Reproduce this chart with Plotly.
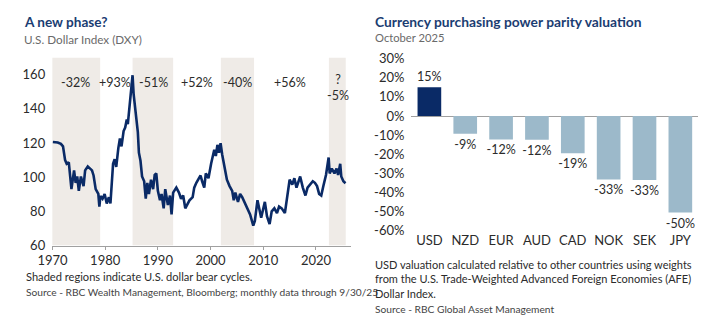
import plotly.graph_objects as go

# ---------------- Data ----------------
dxy_years = [1970.07, 1971.0, 1971.6, 1972.0, 1972.4, 1972.7, 1973.1, 1973.3, 1973.6, 1974.1,
             1974.4, 1974.7, 1975.0, 1975.4, 1975.9, 1976.2, 1976.7, 1977.5, 1977.8, 1978.2,
             1978.7, 1978.9, 1979.1, 1979.5, 1979.9, 1980.3, 1980.7, 1981.0, 1981.5, 1981.8,
             1982.1, 1982.5, 1982.8, 1983.1, 1983.5, 1983.8, 1984.1, 1984.3, 1984.7, 1984.9,
             1985.2, 1985.4, 1985.8, 1986.2, 1986.4, 1986.7, 1987.0, 1987.4, 1987.7, 1988.0,
             1988.3, 1988.7, 1989.1, 1989.4, 1989.7, 1990.0, 1990.4, 1990.7, 1991.1, 1991.4,
             1991.9, 1992.3, 1992.6, 1992.9, 1993.5, 1994.0, 1994.4, 1994.8, 1995.2, 1995.6,
             1996.0, 1996.6, 1996.9, 1997.3, 1997.8, 1998.1, 1998.4, 1998.8, 1999.1, 1999.6,
             2000.1, 2000.7, 2001.0, 2001.3, 2001.6, 2001.9, 2002.2, 2002.7, 2003.1, 2003.6,
             2004.1, 2004.4, 2004.7, 2005.2, 2005.6, 2006.0, 2006.6, 2007.0, 2007.5, 2008.1,
             2008.4, 2008.9, 2009.2, 2009.6, 2010.3, 2010.7, 2011.2, 2011.6, 2012.1, 2012.6,
             2013.0, 2013.5, 2014.1, 2014.6, 2015.0, 2015.5, 2015.9, 2016.3, 2016.7, 2017.0,
             2017.5, 2018.0, 2018.4, 2018.9, 2019.4, 2019.8, 2020.2, 2020.6, 2021.0, 2021.4,
             2021.9, 2022.4, 2022.6, 2023.0, 2023.5, 2023.9, 2024.2, 2024.6, 2024.8, 2025.2,
             2025.6]
dxy_values = [120.6, 120.3, 119.5, 118.0, 110.0, 107.8, 108.7, 100.0, 93.0, 104.0,
              96.7, 100.4, 92.0, 100.4, 94.8, 104.0, 106.3, 104.0, 101.0, 93.0,
              90.2, 82.8, 89.0, 87.4, 90.2, 84.6, 88.3, 84.6, 107.8, 110.5,
              106.0, 117.0, 122.6, 118.0, 127.0, 129.0, 133.7, 131.0, 143.0, 150.4,
              159.6, 148.5, 135.6, 126.3, 114.3, 109.6, 100.4, 97.6, 87.4, 96.7,
              90.2, 98.5, 93.0, 101.3, 102.2, 92.0, 86.5, 90.2, 81.8, 93.0,
              83.7, 89.3, 78.2, 91.0, 93.9, 91.0, 87.4, 89.3, 81.8, 84.6,
              86.5, 88.3, 93.9, 96.7, 99.4, 101.0, 97.6, 93.9, 102.2, 99.4,
              107.8, 116.0, 112.4, 118.9, 114.3, 119.8, 113.3, 106.0, 98.5, 94.8,
              92.0, 86.5, 91.0, 85.6, 90.2, 88.3, 84.6, 81.8, 78.2, 71.7,
              74.4, 86.5, 81.8, 76.3, 85.6, 77.2, 72.6, 80.0, 81.8, 79.0,
              82.8, 81.8, 79.0, 91.0, 98.5, 95.7, 99.4, 93.9, 97.6, 100.4,
              93.9, 89.3, 93.9, 95.7, 97.6, 96.7, 94.8, 90.2, 89.3, 94.8,
              101.3, 111.5, 102.2, 105.0, 102.2, 105.0, 101.3, 107.8, 100.4, 97.6,
              96.5]

bear_starts = [1969.95, 1985.2, 2001.95, 2022.45]
bear_ends = [1979.05, 1992.9, 2008.25, 2025.65]

cycle_labels = ["-32%", "+93%", "-51%", "+52%", "-40%", "+56%", "?<br>-5%"]
cycle_label_x = [1974.4, 1981.9, 1989.2, 1997.35, 2005.1, 2015.1, 2024.1]
cycle_label_y = [155.6, 155.6, 155.6, 155.6, 155.6, 155.6, 152.2]

dxy_ticks = [1970, 1980, 1990, 2000, 2010, 2020]
dxy_yticks = [60, 80, 100, 120, 140, 160]

currencies = ["USD", "NZD", "EUR", "AUD", "CAD", "NOK", "SEK", "JPY"]
ppp_values = [15, -9.3, -12.2, -12.4, -19.4, -33.1, -33.4, -50.4]
ppp_yticks = [30, 20, 10, 0, -10, -20, -30, -40, -50, -60]

# ---------------- Styling ----------------
FONT = "Lato"
NAVY = "#0A2A66"
TITLE_C = "#1B3D72"
SUB_C = "#6A6A6A"
TXT_C = "#2B2B2B"
SHADE = "#EFEBE7"
LIGHT = "#9CB9CA"

W, H = 711, 323
def px_x(p): return p / W
def px_y(p): return 1 - p / H

fig = go.Figure()

fig.add_trace(go.Scatter(
    x=dxy_years, y=dxy_values, mode="lines",
    line=dict(color=NAVY, width=2.6), xaxis="x", yaxis="y",
    showlegend=False, hoverinfo="skip"))

bar_colors = [NAVY if c == "USD" else LIGHT for c in currencies]
fig.add_trace(go.Bar(
    x=currencies, y=ppp_values, marker=dict(color=bar_colors, line=dict(width=0)),
    text=[f"{round(v)}%" for v in ppp_values], textposition="outside",
    constraintext="none",
    textfont=dict(family=FONT, size=12.5, color=TXT_C), cliponaxis=False,
    xaxis="x2", yaxis="y2", showlegend=False, hoverinfo="skip"))

shapes = []
for s, e in zip(bear_starts, bear_ends):
    shapes.append(dict(type="rect", xref="x", yref="y", x0=s, x1=e, y0=60, y1=170,
                       fillcolor=SHADE, line=dict(width=0), layer="below"))

annotations = []
for t, x, y in zip(cycle_labels, cycle_label_x, cycle_label_y):
    annotations.append(dict(text=t, x=x, y=y, xref="x", yref="y", showarrow=False,
                            font=dict(family=FONT, size=12.5, color=TXT_C)))

def txt(text, x, y, size, color, bold=False, yanchor="middle"):
    if bold:
        text = f"<b>{text}</b>"
    annotations.append(dict(text=text, x=px_x(x), y=px_y(y), xref="paper", yref="paper",
                            xanchor="left", yanchor=yanchor, showarrow=False, align="left",
                            font=dict(family=FONT, size=size, color=color)))

txt("A new phase?", 7, 15, 13.6, TITLE_C, bold=True)
txt("U.S. Dollar Index (DXY)", 7, 32.5, 11.7, SUB_C)
txt("Shaded regions indicate U.S. dollar bear cycles.", 9, 282, 11.1, TXT_C)
txt("Source - RBC Wealth Management, Bloomberg; monthly data through 9/30/25", 9, 299, 10.2, "#444444")

txt("Currency purchasing power parity valuation", 366, 14, 13.8, TITLE_C, bold=True)
txt("October 2025", 366, 31, 11.2, SUB_C)
txt("USD valuation calculated relative to other countries using weights<br>"
    "from the U.S. Trade-Weighted Advanced Foreign Economies (AFE)<br>"
    "Dollar Index.", 366, 285, 11, TXT_C)
txt("Source - RBC Global Asset Management", 366, 316.5, 10.2, "#444444")

fig.update_layout(
    width=W, height=H, margin=dict(l=0, r=0, t=0, b=0),
    paper_bgcolor="white", plot_bgcolor="white",
    font=dict(family=FONT, color=TXT_C),
    shapes=shapes, annotations=annotations, bargap=0.34,
    xaxis=dict(domain=[px_x(38), px_x(343)], range=[1969.95, 2026.6],
               tickvals=dxy_ticks, ticktext=[str(t) for t in dxy_ticks],
               showgrid=False, zeroline=False, showline=True, linecolor="#A0A0A0", linewidth=1,
               ticks="outside", ticklen=3, tickcolor="#A0A0A0",
               tickfont=dict(family=FONT, size=13, color=TXT_C), anchor="y"),
    yaxis=dict(domain=[px_y(250), px_y(52)], range=[60, 170],
               tickvals=dxy_yticks, showgrid=False, zeroline=False, showline=False,
               ticks="", ticklabelstandoff=6,
               tickfont=dict(family=FONT, size=13, color=TXT_C), anchor="x"),
    xaxis2=dict(domain=[px_x(405), px_x(698)], showgrid=False, zeroline=False,
                showline=False, ticks="",
                tickfont=dict(family=FONT, size=13, color=TXT_C), anchor="y2"),
    yaxis2=dict(domain=[px_y(234.5), px_y(53.3)], range=[-60, 30],
                tickvals=ppp_yticks, ticktext=[f"{v}%" for v in ppp_yticks],
                showgrid=False, zeroline=True, zerolinecolor="#A0A0A0", zerolinewidth=1,
                showline=False, ticks="", ticklabelstandoff=6,
                tickfont=dict(family=FONT, size=13, color=TXT_C), anchor="x2"),
)

fig.write_html("out.html")
